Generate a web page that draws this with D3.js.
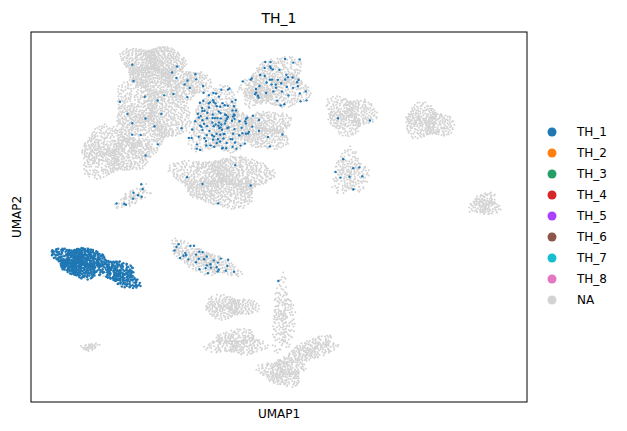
<!DOCTYPE html>
<html><head><meta charset="utf-8">
<script src="https://cdn.jsdelivr.net/npm/d3@7"></script>
<style>body{margin:0;background:#fff}text{font-family:"DejaVu Sans",sans-serif}</style>
</head><body><div id="chart"></div>
<script>
// cluster blobs (UMAP units)
var clusterNames = ["c1","c2","c3","c4","c5","c6","c7","c8","c9","c10","c11","c12","c13","c14","c15","c16","c17","c18","c19","c20","c21","c22","c23"];
var clusterX   = [-0.08,-0.2,-1.69, 2.62, 4.92, 4.35, 2.74, 7.86, 11.0, 7.86, 13.3,-0.89,-3.05, 1.94, 3.02, 5.16, 3.3, 6.25, 5.16,-2.62, 1.3, 4.1,-1.45];
var clusterY   = [ 6.58, 4.55, 3.1, 4.31, 5.93, 4.03, 2.0, 4.64, 4.35, 2.28, 1.0, 1.31,-1.3,-1.24,-3.15,-3.55,-4.6,-4.9,-5.78,-4.77, 5.9, 5.5,-1.8];
var clusterRx  = [ 1.2, 1.5, 1.4, 1.2, 1.3, 1.2, 1.9, 1.0, 1.0, 0.7, 0.6, 0.8, 1.0, 1.5, 1.1, 0.45, 1.15, 1.2, 0.9, 0.35, 0.9, 0.55, 0.9];
var clusterRy  = [ 0.9, 1.4, 0.95, 1.3, 1.0, 0.75, 1.0, 0.75, 0.65, 0.9, 0.45, 0.3, 0.6, 0.45, 0.45, 1.5, 0.5, 0.4, 0.55, 0.16, 0.65, 0.55, 0.45];
var clusterRot = [ 0, 0, 0, 0, 0, 0, 0, 0, -10, 0, 0, 30, -8, -22, 0, 0, 0, 20, 0, 10, 0, 0, -25];
var clusterN   = [700, 900, 600, 650, 520, 420, 950, 330, 320, 200, 140, 80, 520, 320, 240, 190, 260, 220, 260, 35, 260, 120, 260];
var clusterTH1 = [0.003, 0.015, 0, 0.18, 0.09, 0.015, 0.004, 0.004, 0, 0.04, 0, 0.12, 0.93, 0.1, 0, 0.01, 0, 0, 0, 0, 0.04, 0.02, 0.9];

var legendLabels = ["TH_1","TH_2","TH_3","TH_4","TH_5","TH_6","TH_7","TH_8","NA"];
var legendColors = ["#1f77b4","#ff7f0e","#279e68","#d62728","#aa40fc","#8c564b","#17becf","#e377c2","lightgray"];

var W = 627, H = 431;
var svg = d3.select("#chart").append("svg").attr("width", W).attr("height", H);
var x = d3.scaleLinear().domain([-5, 15]).range([31, 527]);
var y = d3.scaleLinear().domain([-7, 8]).range([402, 32]);

// van der Corput / Halton sequence, to spread dots evenly in a blob
function halton(i, b) {
    var f = 1, r = 0;
    while (i > 0) { f = f / b; r = r + f * (i % b); i = Math.floor(i / b); }
    return r;
}

var grey = [], blue = [];
clusterNames.forEach(function (c, k) {
    var n = clusterN[k], a = clusterRot[k] * Math.PI / 180;
    for (var i = 1; i <= n; i++) {
        var t = 2 * Math.PI * halton(i + 17 * k, 3);
        var r = Math.pow(halton(i + 17 * k, 2), 0.6) * (1 + 0.18 * Math.sin(3 * t + k) + 0.1 * Math.cos(5 * t + 2 * k));
        var dx = r * Math.cos(t) * clusterRx[k], dy = r * Math.sin(t) * clusterRy[k];
        var p = {u: clusterX[k] + dx * Math.cos(a) - dy * Math.sin(a),
                 v: clusterY[k] + dx * Math.sin(a) + dy * Math.cos(a)};
        if (halton(i + 17 * k, 5) < clusterTH1[k]) blue.push(p); else grey.push(p);
    }
});

svg.append("g").selectAll("circle").data(grey).enter().append("circle")
    .attr("cx", function (d) { return x(d.u); })
    .attr("cy", function (d) { return y(d.v); })
    .attr("r", 1).attr("fill", "lightgray");
svg.append("g").selectAll("circle").data(blue).enter().append("circle")
    .attr("cx", function (d) { return x(d.u); })
    .attr("cy", function (d) { return y(d.v); })
    .attr("r", 1.2).attr("fill", "#1f77b4");

svg.append("rect").attr("x", 31).attr("y", 32).attr("width", 496).attr("height", 370)
    .attr("fill", "none").attr("stroke", "#000").attr("stroke-width", 1);

svg.append("text").attr("x", 279).attr("y", 23).attr("text-anchor", "middle")
    .attr("font-size", 14).text("TH_1");
svg.append("text").attr("x", 279).attr("y", 418).attr("text-anchor", "middle")
    .attr("font-size", 12).text("UMAP1");
svg.append("text").attr("transform", "translate(21,217) rotate(-90)").attr("text-anchor", "middle")
    .attr("font-size", 12).text("UMAP2");

var leg = svg.append("g").selectAll("g").data(legendLabels).enter().append("g")
    .attr("transform", function (d, i) { return "translate(552," + (132 + i * 21) + ")"; });
leg.append("circle").attr("r", 4.5).attr("fill", function (d, i) { return legendColors[i]; });
leg.append("text").attr("x", 25).attr("dy", "0.35em").attr("font-size", 12).text(function (d) { return d; });
</script></body></html>
